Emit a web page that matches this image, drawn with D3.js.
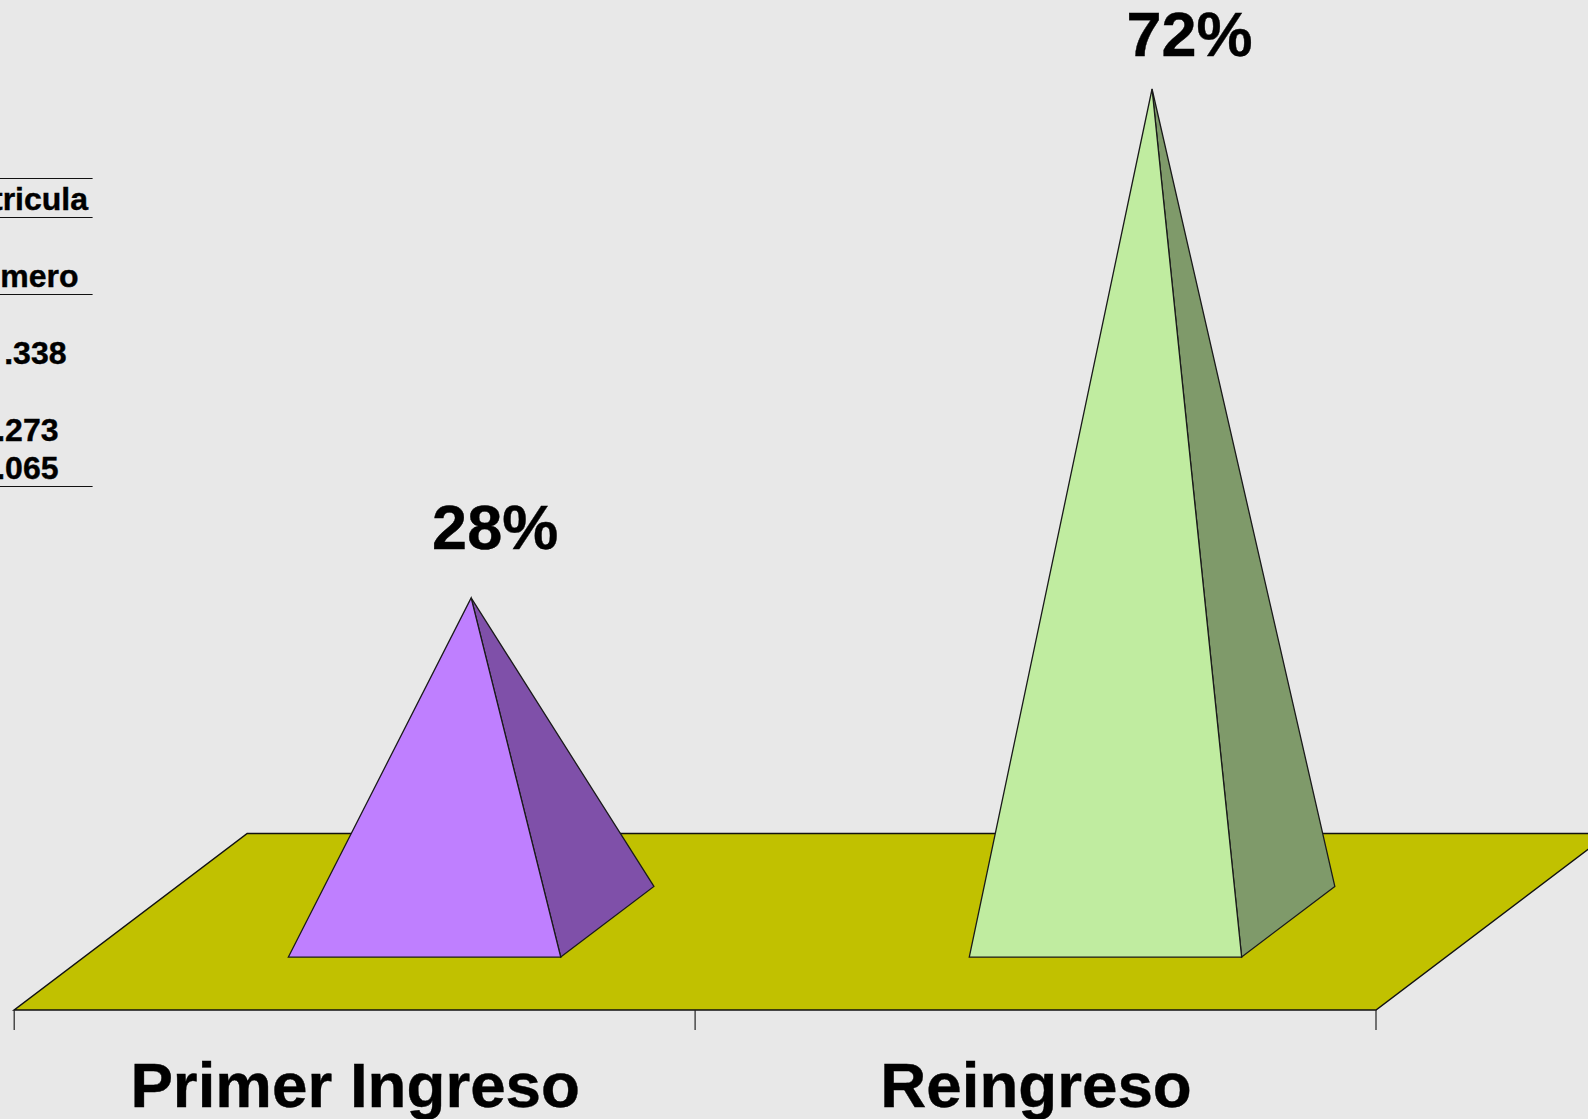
<!DOCTYPE html>
<html>
<head>
<meta charset="utf-8">
<script src="https://d3js.org/d3.v7.min.js"></script>
<style>
  html, body { margin: 0; padding: 0; background: #e8e8e8; overflow: hidden; }
  svg { display: block; }
  text { font-family: "Liberation Sans", Arial, sans-serif; font-weight: bold; fill: #000; stroke: #000; stroke-width: 0.4; }
</style>
</head>
<body>
<svg width="1588" height="1119"></svg>
<script>
const categories = ['Primer Ingreso', 'Reingreso']
const percents = [28, 72]
const frontColors = ['#bf7fff', '#c0eca0']
const sideColors = ['#7f50a9', '#7f9a6a']
const tableLabels = ['tricula', 'mero', '.338', '.273', '.065']

const svg = d3.select('svg')

// floor geometry
const floorLeft = 14.2
const floorRight = 1376
const floorFront = 1010
const floorBack = 833.5
const depthX = 233
const depthY = floorFront - floorBack
const barShare = 0.4

const x = d3.scaleBand()
    .domain(categories)
    .range([floorLeft, floorRight])

const floorMid = floorFront - depthY / 2

const y = d3.scaleLinear()
    .domain([0, 72])
    .range([floorMid, 89])

// floor
svg.append('path')
    .attr('d', d3.line()([
        [floorLeft, floorFront],
        [floorRight, floorFront],
        [floorRight + depthX, floorBack],
        [floorLeft + depthX, floorBack]
    ]) + 'Z')
    .attr('fill', '#c1c100')
    .attr('stroke', '#111')
    .attr('stroke-width', 1.5)

// ticks on the band edges
const tickXs = categories.map(c => x(c)).concat(floorRight)
svg.selectAll('.tick')
    .data(tickXs)
    .join('line')
    .attr('class', 'tick')
    .attr('x1', d => d)
    .attr('x2', d => d)
    .attr('y1', floorFront)
    .attr('y2', floorFront + 20)
    .attr('stroke', '#222')
    .attr('stroke-width', 1.2)

// pyramids
const pyramids = svg.selectAll('.pyramid')
    .data(categories)
    .join('g')
    .attr('class', 'pyramid')

const corner = (c, share, depth) => [
    x(c) + x.bandwidth() * share + depthX * depth,
    floorFront - depthY * depth
]
const left = (1 - barShare) / 2
const right = left + barShare
const apex = (c, i) => [x(c) + x.bandwidth() / 2 + depthX / 2, y(percents[i])]

pyramids.append('path')
    .attr('d', (c, i) => d3.line()([corner(c, right, 0.3), corner(c, right, 0.7), apex(c, i)]) + 'Z')
    .attr('fill', (c, i) => sideColors[i])
    .attr('stroke', '#1a1a1a')
    .attr('stroke-width', 1.3)

pyramids.append('path')
    .attr('d', (c, i) => d3.line()([corner(c, left, 0.3), corner(c, right, 0.3), apex(c, i)]) + 'Z')
    .attr('fill', (c, i) => frontColors[i])
    .attr('stroke', '#1a1a1a')
    .attr('stroke-width', 1.3)

// percent labels, nudged like the original
const labelDx = [24, 37.5]
const labelDy = [49, 33]
svg.selectAll('.pct')
    .data(percents)
    .join('text')
    .attr('class', 'pct')
    .attr('x', (d, i) => apex(categories[i], i)[0] + labelDx[i])
    .attr('y', (d, i) => y(d) - labelDy[i])
    .attr('text-anchor', 'middle')
    .attr('font-size', 63)
    .text(d => d + '%')

// category labels
svg.selectAll('.cat')
    .data(categories)
    .join('text')
    .attr('class', 'cat')
    .attr('x', c => x(c) + x.bandwidth() / 2 + 0.5)
    .attr('y', 1107)
    .attr('text-anchor', 'middle')
    .attr('font-size', 63.7)
    .text(c => c)

// table cut off at the left edge
const tableBaselines = [210, 287, 364, 441, 479]
const tableEnds = [88, 78.5, 66.5, 58.5, 58.5]
svg.selectAll('.cell')
    .data(tableLabels)
    .join('text')
    .attr('class', 'cell')
    .attr('x', (d, i) => tableEnds[i])
    .attr('y', (d, i) => tableBaselines[i])
    .attr('text-anchor', 'end')
    .attr('font-size', 32)
    .text(d => d)

const tableRules = [178.5, 217.5, 294.5, 486.5]
svg.selectAll('.rule')
    .data(tableRules)
    .join('line')
    .attr('class', 'rule')
    .attr('x1', 0)
    .attr('x2', 92.6)
    .attr('y1', d => d)
    .attr('y2', d => d)
    .attr('stroke', '#111')
    .attr('stroke-width', 1.2)
</script>
</body>
</html>
